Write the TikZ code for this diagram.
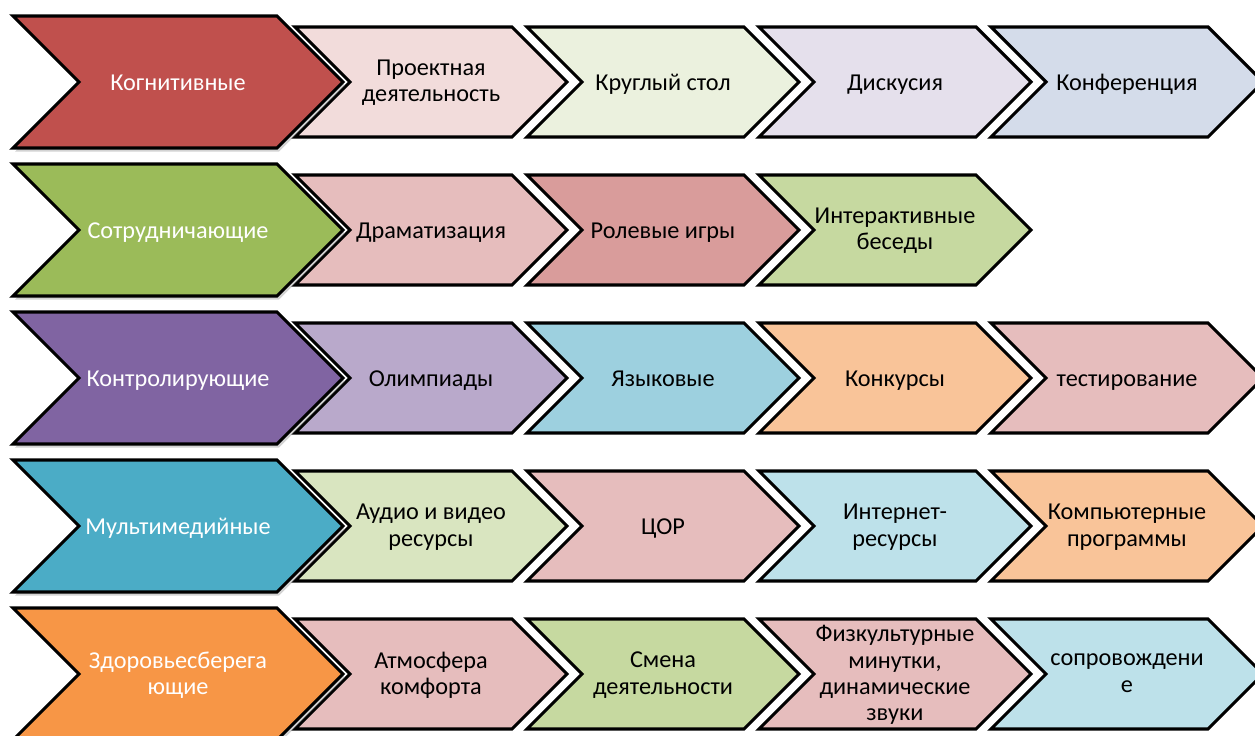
\documentclass[tikz,border=0pt]{standalone}
\usepackage{fontspec}
\setmainfont{Carlito}
\usetikzlibrary{shadows}

% colours of the rows
\definecolor{kogn}{HTML}{C0504D}
\definecolor{sotr}{HTML}{9BBB59}
\definecolor{kontr}{HTML}{8064A2}
\definecolor{multi}{HTML}{4BACC6}
\definecolor{zdor}{HTML}{F79646}
\definecolor{pinklight}{HTML}{F2DCDB}
\definecolor{greenpale}{HTML}{EBF1DE}
\definecolor{lilacpale}{HTML}{E5E0EC}
\definecolor{bluepale}{HTML}{D4DCEA}
\definecolor{rose}{HTML}{E6BDBD}
\definecolor{rosedark}{HTML}{D99C9B}
\definecolor{greenmid}{HTML}{C6D9A0}
\definecolor{greenlight}{HTML}{D9E5C0}
\definecolor{lilac}{HTML}{B9A9CB}
\definecolor{aqua}{HTML}{9DD0DF}
\definecolor{aqualight}{HTML}{BDE1EA}
\definecolor{peach}{HTML}{F9C499}

\tikzset{
    chevbig/.style={fill=#1, draw=black, line width=1.8pt, line join=miter,
        drop shadow={opacity=0.35, shadow xshift=1.2pt, shadow yshift=-2pt}},
    chevsmall/.style={fill=#1, draw=black, line width=1.8pt, line join=miter},
    chevtext/.style={align=center, font=\fontsize{13.8}{15}\selectfont,
        execute at begin node=\strut, execute at end node=\strut},
    bigtext/.style={chevtext, text=white},
    smalltext/.style={chevtext, text=black},
}

% chevron: left x, centre y, half height, length of the top edge
\newcommand\chevpath[4]{({#1},{#2-#3}) -- ++({#4},0) -- ++({#3},{#3}) -- ++({-#3},{#3}) -- ++({-#4},0) -- ++({#3},{-#3}) -- cycle}

\begin{document}
\begin{tikzpicture}[x=0.02cm, y=-0.02cm]
    \useasboundingbox (0,0) rectangle (1255,736);
    \clip (0,0) rectangle (1255,736);

    % row 1
    \foreach \col/\txt [count=\i] in {pinklight/{Проектная\\деятельность}, greenpale/{Круглый стол}, lilacpale/Дискусия, bluepale/Конференция}{
        \draw[chevsmall=\col] \chevpath{295+232*(\i-1)}{82}{55}{217};
        \node[smalltext] (kogn-\i) at ({431+232*(\i-1)}, 85) {\txt};
    }
    \draw[chevbig=kogn] \chevpath{13}{82}{66}{264};
    \node[bigtext] (kogn) at (178, 85) {Когнитивные};

    % row 2
    \foreach \col/\txt [count=\i] in {rose/Драматизация, rosedark/{Ролевые игры}, greenmid/{Интерактивные\\беседы}}{
        \draw[chevsmall=\col] \chevpath{295+232*(\i-1)}{230}{55}{217};
        \node[smalltext] (sotr-\i) at ({431+232*(\i-1)}, 233) {\txt};
    }
    \draw[chevbig=sotr] \chevpath{13}{230}{66}{264};
    \node[bigtext] (sotr) at (178, 233) {Сотрудничающие};

    % row 3
    \foreach \col/\txt [count=\i] in {lilac/Олимпиады, aqua/Языковые, peach/Конкурсы, rose/тестирование}{
        \draw[chevsmall=\col] \chevpath{295+232*(\i-1)}{378}{55}{217};
        \node[smalltext] (kontr-\i) at ({431+232*(\i-1)}, 381) {\txt};
    }
    \draw[chevbig=kontr] \chevpath{13}{378}{66}{264};
    \node[bigtext] (kontr) at (178, 381) {Контролирующие};

    % row 4
    \foreach \col/\txt [count=\i] in {greenlight/{Аудио и видео\\ресурсы}, rose/ЦОР, aqualight/{Интернет-\\ресурсы}, peach/{Компьютерные\\программы}}{
        \draw[chevsmall=\col] \chevpath{295+232*(\i-1)}{526}{55}{217};
        \node[smalltext] (multi-\i) at ({431+232*(\i-1)}, 529) {\txt};
    }
    \draw[chevbig=multi] \chevpath{13}{526}{66}{264};
    \node[bigtext] (multi) at (178, 529) {Мультимедийные};

    % row 5
    \foreach \col/\txt [count=\i] in {rose/{Атмосфера\\комфорта}, greenmid/{Смена\\деятельности}, rose/{Физкультурные\\минутки,\\динамические\\звуки}, aqualight/{сопровождени\\е}}{
        \draw[chevsmall=\col] \chevpath{295+232*(\i-1)}{674}{55}{217};
        \node[smalltext] (zdor-\i) at ({431+232*(\i-1)}, 677) {\txt};
    }
    \draw[chevbig=zdor] \chevpath{13}{674}{66}{264};
    \node[bigtext] (zdor) at (178, 677) {Здоровьесберега\\ющие};
\end{tikzpicture}
\end{document}
